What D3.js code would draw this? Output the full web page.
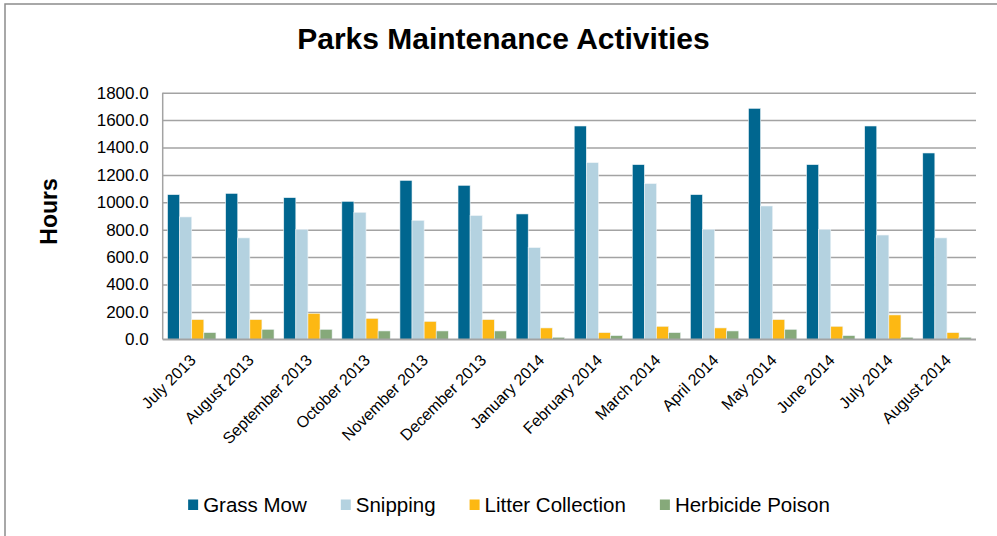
<!DOCTYPE html>
<html>
<head>
<meta charset="utf-8">
<script src="https://cdn.jsdelivr.net/npm/d3@7"></script>
<style>
  body { margin: 0; background: #fff; }
  svg { display: block; font-family: "Liberation Sans", Arial, sans-serif; }
</style>
</head>
<body>
<div id="chart"></div>
<script>
// data
var months = ['July 2013', 'August 2013', 'September 2013', 'October 2013', 'November 2013',
    'December 2013', 'January 2014', 'February 2014', 'March 2014', 'April 2014',
    'May 2014', 'June 2014', 'July 2014', 'August 2014'];
var seriesNames = ['Grass Mow', 'Snipping', 'Litter Collection', 'Herbicide Poison'];
var grassMow  = [1056, 1065, 1034, 1007, 1160, 1124, 915, 1557, 1275, 1056, 1686, 1275, 1557, 1360];
var snipping  = [893, 740, 803, 927, 868, 903, 669, 1289, 1136, 803, 973, 803, 761, 740];
var litter    = [144, 144, 190, 153, 131, 144, 83, 49, 95, 83, 144, 95, 178, 49];
var herbicide = [49, 73, 73, 61, 61, 61, 15, 27, 49, 61, 73, 27, 15, 15];
var yTicks = [0, 200, 400, 600, 800, 1000, 1200, 1400, 1600, 1800];
var colors = ['#00668f', '#b4d2e0', '#fdb813', '#86a97a'];

var width = 997,
    height = 536,
    margin = {top: 92.7, right: 21, bottom: 196.7, left: 162.7},
    plotW = width - margin.left - margin.right,
    plotH = height - margin.top - margin.bottom;

var models = months.map(function (m, i) {
    return {month: m, values: [grassMow[i], snipping[i], litter[i], herbicide[i]]};
});

var svg = d3.select('#chart')
    .append('svg')
    .attr('width', width)
    .attr('height', height);

// outer chart frame (runs past the right and bottom edge)
svg.append('rect')
    .attr('x', 5).attr('y', 4)
    .attr('width', 1010).attr('height', 560)
    .style('fill', 'none')
    .style('stroke', '#8c8c8c')
    .style('stroke-width', 1.5);

// title
svg.append('text')
    .attr('x', 503.4)
    .attr('y', 49)
    .attr('text-anchor', 'middle')
    .style('font-size', '30px')
    .style('font-weight', 'bold')
    .style('fill', '#000')
    .text('Parks Maintenance Activities');

// y axis title
svg.append('text')
    .attr('transform', 'translate(56.5,211.5) rotate(-90)')
    .attr('text-anchor', 'middle')
    .style('font-size', '23px')
    .style('font-weight', 'bold')
    .style('fill', '#000')
    .text('Hours');

var g = svg.append('g')
    .attr('transform', `translate(${margin.left},${margin.top})`);

var xScale0 = d3.scaleBand()
    .domain(months)
    .range([0, plotW])
    .paddingInner(0.167)
    .paddingOuter(0.0835);
var xScale1 = d3.scaleBand()
    .domain(seriesNames)
    .range([0, xScale0.bandwidth()]);
var yScale = d3.scaleLinear()
    .domain([0, 1800])
    .range([plotH, 0]);

// gridlines + y labels
var yAxis = d3.axisLeft(yScale)
    .tickValues(yTicks)
    .tickFormat(d3.format('.1f'))
    .tickSize(-plotW)
    .tickPadding(14);

var yg = g.append('g')
    .attr('class', 'y axis')
    .call(yAxis);
yg.select('.domain').remove();
yg.selectAll('.tick line')
    .style('stroke', '#a3a3a3')
    .style('stroke-width', 1.5);
yg.selectAll('.tick text')
    .style('font-size', '17px')
    .style('fill', '#000');

// bars
var month = g.selectAll('.month')
    .data(models)
    .enter().append('g')
    .attr('class', 'month')
    .attr('transform', d => `translate(${xScale0(d.month)},0)`);

month.selectAll('rect')
    .data(d => d.values.map((v, i) => ({key: seriesNames[i], value: v, i: i})))
    .enter().append('rect')
    .attr('x', d => xScale1(d.key))
    .attr('y', d => yScale(d.value))
    .attr('width', xScale1.bandwidth())
    .attr('height', d => plotH - yScale(d.value))
    .style('fill', d => colors[d.i])
    .style('stroke', '#eef4f7')
    .style('stroke-width', 0.6);

// axis lines
g.append('line')
    .attr('x1', 0).attr('x2', 0)
    .attr('y1', 0).attr('y2', plotH)
    .style('stroke', '#a3a3a3')
    .style('stroke-width', 1.5);
g.append('line')
    .attr('x1', 0).attr('x2', plotW)
    .attr('y1', plotH).attr('y2', plotH)
    .style('stroke', '#a3a3a3')
    .style('stroke-width', 1.5);

// x labels, rotated
g.selectAll('.xlabel')
    .data(months)
    .enter().append('text')
    .attr('class', 'xlabel')
    .attr('text-anchor', 'end')
    .attr('transform', d => `translate(${xScale0(d) + xScale0.bandwidth() / 2 + 5},${plotH + 22}) rotate(-45)`)
    .style('font-size', '16px')
    .style('fill', '#000')
    .text(d => d);

// legend
var legend = svg.append('g').attr('class', 'legend');
var lx = 0;
seriesNames.forEach(function (name, i) {
    var item = legend.append('g').attr('transform', `translate(${lx},0)`);
    item.append('rect')
        .attr('x', 0).attr('y', 499.5)
        .attr('width', 10).attr('height', 10.5)
        .style('fill', colors[i]);
    var t = item.append('text')
        .attr('x', 15)
        .attr('y', 512)
        .style('font-size', '20.5px')
        .style('fill', '#000')
        .text(name);
    lx += 15 + t.node().getComputedTextLength() + 34;
});
var legendW = lx - 34;
legend.attr('transform', `translate(${509 - legendW / 2},0)`);
</script>
</body>
</html>
